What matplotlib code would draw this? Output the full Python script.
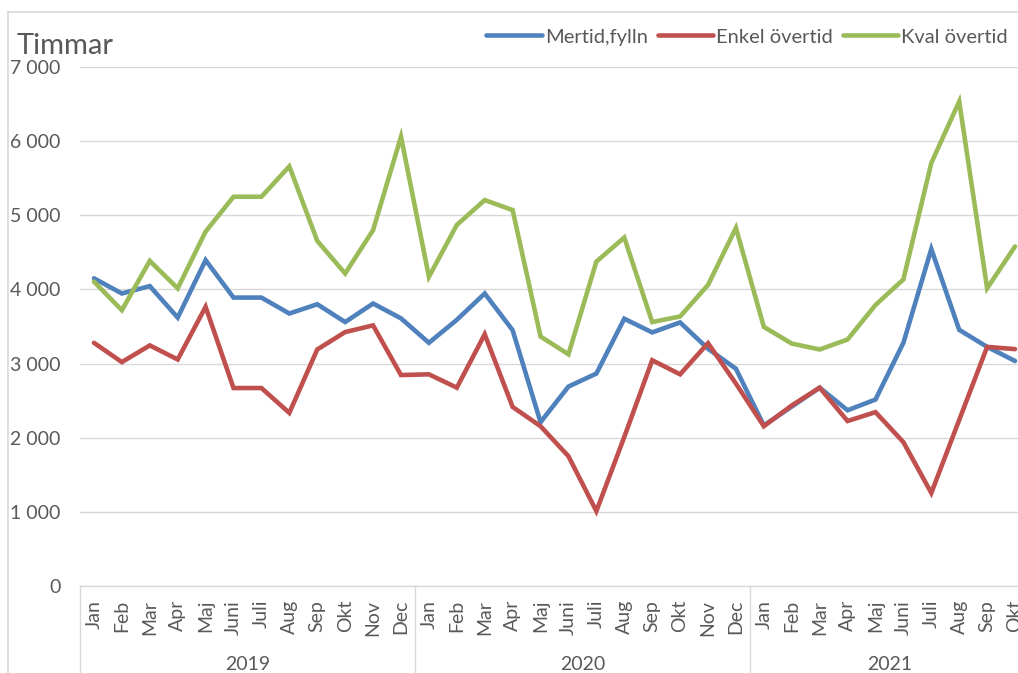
import matplotlib
matplotlib.use("Agg")
import matplotlib.pyplot as plt
from matplotlib.lines import Line2D
from matplotlib.ticker import FuncFormatter

plt.rcParams['font.family'] = ['Lato', 'DejaVu Sans']

# --- Data
manader = ['Jan', 'Feb', 'Mar', 'Apr', 'Maj', 'Juni', 'Juli', 'Aug', 'Sep', 'Okt', 'Nov', 'Dec',
           'Jan', 'Feb', 'Mar', 'Apr', 'Maj', 'Juni', 'Juli', 'Aug', 'Sep', 'Okt', 'Nov', 'Dec',
           'Jan', 'Feb', 'Mar', 'Apr', 'Maj', 'Juni', 'Juli', 'Aug', 'Sep', 'Okt']
ar = ['2019', '2020', '2021']
ar_antal = [12, 12, 10]

mertid = [4150, 3945, 4045, 3620, 4395, 3890, 3890, 3675, 3800, 3560, 3810, 3610,
          3280, 3590, 3945, 3450, 2210, 2690, 2865, 3605, 3420, 3555, 3200, 2930,
          2165, 2420, 2675, 2370, 2515, 3280, 4545, 3455, 3225, 3035]
enkel = [3280, 3020, 3245, 3055, 3765, 2670, 2670, 2335, 3190, 3425, 3515, 2845,
         2855, 2675, 3395, 2415, 2155, 1750, 1010, 2010, 3045, 2855, 3275, 2730,
         2155, 2435, 2675, 2225, 2345, 1940, 1255, 2240, 3225, 3195]
kval = [4105, 3720, 4385, 4015, 4780, 5250, 5250, 5660, 4655, 4215, 4800, 6060,
        4170, 4870, 5205, 5070, 3365, 3125, 4375, 4700, 3560, 3635, 4060, 4830,
        3495, 3270, 3190, 3325, 3790, 4135, 5705, 6535, 4015, 4580]

serier = [('Mertid,fylln', mertid, '#4F81BD'),
          ('Enkel övertid', enkel, '#C0504D'),
          ('Kval övertid', kval, '#9BBB59')]

textfarg = '#595959'
gridfarg = '#D9D9D9'

fig = plt.figure(figsize=(10.18, 6.73), dpi=100)
ax = fig.add_axes([80 / 1018, 1 - 586 / 673, 949 / 1018, 519 / 673])

x = list(range(len(manader)))
for namn, varden, farg in serier:
    ax.plot(x, varden, color=farg, lw=3.3, label=namn, solid_joinstyle='miter', solid_capstyle='round')

ax.set_xlim(-0.5, len(manader) - 0.5)
ax.set_ylim(0, 7000)
ax.set_yticks(range(0, 7001, 1000))
ax.yaxis.set_major_formatter(FuncFormatter(lambda v, pos: f'{int(v):,}'.replace(',', ' ')))
ax.grid(axis='y', color=gridfarg, lw=1)
ax.set_axisbelow(True)

for s in ['top', 'right', 'left']:
    ax.spines[s].set_visible(False)
ax.spines['bottom'].set_color(gridfarg)
ax.spines['bottom'].set_linewidth(1)

ax.tick_params(axis='y', length=0, pad=14, labelsize=14, labelcolor=textfarg)
ax.set_xticks(x)
ax.set_xticklabels(manader, rotation=90, va='top')
ax.tick_params(axis='x', length=0, pad=10, labelsize=14, labelcolor=textfarg)

# --- Årsgrupper under månaderna
under = -87 / 519
start = 0
for namn, n in zip(ar, ar_antal):
    ax.add_line(Line2D([start - 0.5, start - 0.5], [0, under], transform=ax.get_xaxis_transform(),
                       color=gridfarg, lw=1, clip_on=False))
    ax.text(start + (n - 1) / 2, -79 / 519, namn, transform=ax.get_xaxis_transform(),
            ha='center', va='center', fontsize=14, color=textfarg)
    start += n
ax.add_line(Line2D([start - 0.5, start - 0.5], [0, under], transform=ax.get_xaxis_transform(),
                   color=gridfarg, lw=1, clip_on=False))

# --- Ram runt diagrammet
fig.add_artist(Line2D([8 / 1018, 8 / 1018], [0, 1 - 12 / 673], color=gridfarg, lw=1.2))
fig.add_artist(Line2D([8 / 1018, 1], [1 - 12 / 673, 1 - 12 / 673], color=gridfarg, lw=1.2))

fig.text(17 / 1018, 1 - 46 / 673, 'Timmar', fontsize=21, color=textfarg, ha='left', va='center')

fig.legend(loc='center right', bbox_to_anchor=(1008 / 1018, 1 - 37 / 673), ncol=3, frameon=False,
           fontsize=14.5, labelcolor=textfarg, handlelength=2.75, handletextpad=0.15,
           columnspacing=0.5, borderaxespad=0, borderpad=0)

fig.savefig('out.png', dpi=100)
